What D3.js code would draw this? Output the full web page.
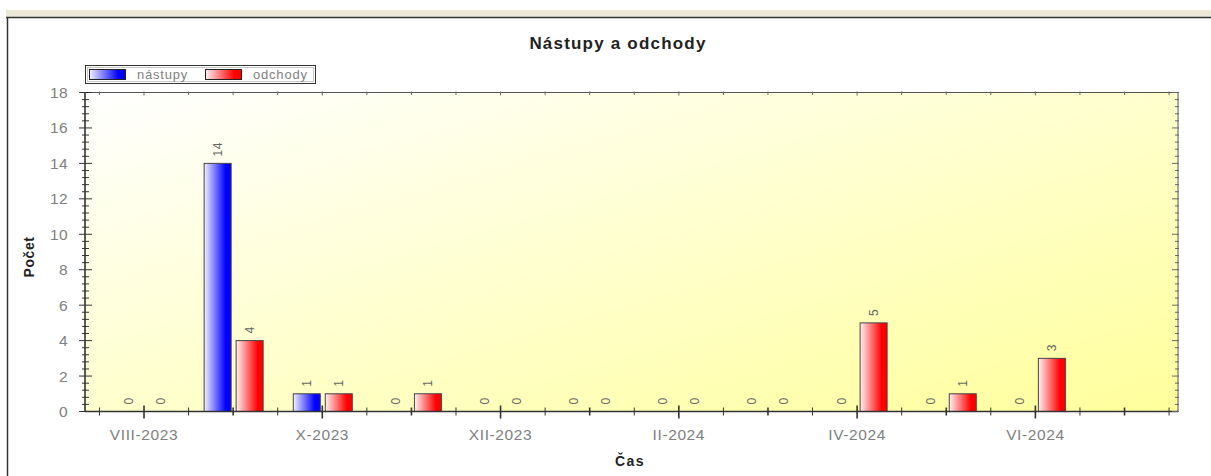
<!DOCTYPE html>
<html><head><meta charset="utf-8">
<script src="https://cdn.jsdelivr.net/npm/d3@7"></script>
<style>
html,body{margin:0;padding:0;background:#fff;}
svg{display:block;font-family:"Liberation Sans",Arial,sans-serif;}
</style></head>
<body>
<svg id="chart" width="1211" height="476"></svg>
<script>
const categories = ["VIII-2023","IX-2023","X-2023","XI-2023","XII-2023","I-2024","II-2024","III-2024","IV-2024","V-2024","VI-2024"];
const nastupy = [0,14,1,0,0,0,0,0,0,0,0];
const odchody = [0,4,1,1,0,0,0,0,5,1,3];
const seriesNames = ["nástupy","odchody"];
const tickLabels = ["VIII-2023","X-2023","XII-2023","II-2024","IV-2024","VI-2024"];
const yTicks = [0,2,4,6,8,10,12,14,16,18];

(function(){
const svg = d3.select("#chart");
const W = 1211, H = 476;
const pL = 85, pR = 1178, pT = 92.5, pB = 411.5;

// page frame
svg.append("rect").attr("x",6).attr("y",10).attr("width",W-6).attr("height",7.5).attr("fill","#ece9d8");
svg.append("line").attr("x1",6).attr("x2",W).attr("y1",17.5).attr("y2",17.5).attr("stroke","#333").attr("stroke-width",1.5);
svg.append("line").attr("x1",7.5).attr("x2",7.5).attr("y1",17).attr("y2",H).attr("stroke","#333").attr("stroke-width",1.5);

const defs = svg.append("defs");
const bg = defs.append("linearGradient").attr("id","bg").attr("x1",0).attr("y1",0).attr("x2",1).attr("y2",1);
bg.append("stop").attr("offset","0%").attr("stop-color","#ffffff");
bg.append("stop").attr("offset","100%").attr("stop-color","#ffff9c");
function barGrad(id, light, full){
  const g = defs.append("linearGradient").attr("id",id).attr("x1",0).attr("y1",0).attr("x2",1).attr("y2",0);
  g.append("stop").attr("offset","0%").attr("stop-color",light);
  g.append("stop").attr("offset","80%").attr("stop-color",full);
  g.append("stop").attr("offset","100%").attr("stop-color",full);
}
barGrad("gBlue","#f2f2ff","#0000ff");
barGrad("gRed","#fff2f2","#ff0000");
const fills = ["url(#gBlue)","url(#gRed)"];

// scales
const x = d3.scaleLinear().domain([-0.662, 11.6]).range([pL, pR]);
const y = d3.scaleLinear().domain([0, 18]).range([pB, pT]);
const inner = d3.scaleBand().domain(seriesNames).range([-29, 30]).paddingInner(0.156).paddingOuter(0);

// plot background
svg.append("rect").attr("x",pL).attr("y",pT).attr("width",pR-pL).attr("height",pB-pT).attr("fill","url(#bg)");

// title
svg.append("text").attr("x",618).attr("y",49).attr("text-anchor","middle")
  .attr("font-size",17).attr("font-weight","bold").attr("letter-spacing",1.2).attr("fill","#222")
  .text("Nástupy a odchody");

// bars
const seriesData = [nastupy, odchody];
seriesNames.forEach((name, si) => {
  const vals = seriesData[si];
  const g = svg.append("g");
  g.selectAll("rect").data(vals).join("rect")
    .attr("x",(d,i)=>x(i)+inner(name))
    .attr("y",d=>y(d))
    .attr("width",inner.bandwidth())
    .attr("height",d=>y(0)-y(d))
    .attr("fill",fills[si])
    .attr("stroke",d=>d>0?"#444":"none").attr("stroke-width",1);
  g.selectAll("text").data(vals).join("text")
    .attr("transform",(d,i)=>`translate(${x(i)+inner(name)+inner.bandwidth()/2+4},${y(d)-7}) rotate(-90)`)
    .attr("font-size",12).attr("fill","#666").attr("letter-spacing",0.5)
    .text(d=>d);
});

// frame lines
svg.append("line").attr("x1",pL).attr("x2",pR).attr("y1",pT).attr("y2",pT).attr("stroke","#555").attr("stroke-width",1);
svg.append("line").attr("x1",pR).attr("x2",pR).attr("y1",pT).attr("y2",pB).attr("stroke","#555").attr("stroke-width",1);

// x axis ticks
const xTickVals = d3.range(-0.5, 11.6, 0.5);
const xg = svg.append("g");
xTickVals.forEach(v => {
  const px = x(v);
  const major = Number.isInteger(v) && v % 2 === 0;
  const month = Number.isInteger(v);
  xg.append("line").attr("x1",px).attr("x2",px)
    .attr("y1",pB-(major?6:4)).attr("y2",pB+(major?7:4))
    .attr("stroke","#333").attr("stroke-width",month?1.6:1);
  xg.append("line").attr("x1",px).attr("x2",px).attr("y1",pT-1).attr("y2",pT+(major?3:2.5))
    .attr("stroke","#666").attr("stroke-width",1);
});
xg.append("line").attr("x1",pL).attr("x2",pR).attr("y1",pB).attr("y2",pB).attr("stroke","#333").attr("stroke-width",1.6);
xg.selectAll("text.xl").data(tickLabels).join("text").attr("class","xl")
  .attr("x",d=>x(categories.indexOf(d))).attr("y",440).attr("text-anchor","middle")
  .attr("font-size",15.5).attr("letter-spacing",0.6).attr("fill","#808080").text(d=>d);

// y axis
const yg = svg.append("g");
d3.range(0, 18.01, 0.4).forEach(v => {
  const py = y(v);
  const major = Math.abs(v/2 - Math.round(v/2)) < 1e-6;
  yg.append("line").attr("x1",pL-(major?6:3)).attr("x2",pL+(major?7:4)).attr("y1",py).attr("y2",py)
    .attr("stroke","#333").attr("stroke-width",1);
  yg.append("line").attr("x1",pR-(major?6:3)).attr("x2",pR+1).attr("y1",py).attr("y2",py)
    .attr("stroke","#666").attr("stroke-width",1);
});
yg.append("line").attr("x1",pL).attr("x2",pL).attr("y1",pT).attr("y2",pB).attr("stroke","#333").attr("stroke-width",1.6);
yg.selectAll("text").data(yTicks).join("text")
  .attr("x",68).attr("y",d=>y(d)+5.5).attr("text-anchor","end")
  .attr("font-size",15.5).attr("letter-spacing",0.4).attr("fill","#808080").text(d=>d);

// axis titles
svg.append("text").attr("transform","translate(34,257) rotate(-90)").attr("text-anchor","middle")
  .attr("font-size",14).attr("font-weight","bold").attr("letter-spacing",0.6).attr("fill","#222").text("Počet");
svg.append("text").attr("x",630).attr("y",466).attr("text-anchor","middle")
  .attr("font-size",14).attr("font-weight","bold").attr("letter-spacing",1.5).attr("fill","#222").text("Čas");

// legend
const lg = svg.append("g");
lg.append("rect").attr("x",85.5).attr("y",65.5).attr("width",230).attr("height",18)
  .attr("fill","#fff").attr("stroke","#333").attr("stroke-width",1);
lg.append("rect").attr("x",87.5).attr("y",67.5).attr("width",226).attr("height",14)
  .attr("fill","none").attr("stroke","#bbb").attr("stroke-width",0.8);
const legX = [89, 205];
seriesNames.forEach((name, i) => {
  lg.append("rect").attr("x",legX[i]+0.5).attr("y",69.5).attr("width",36).attr("height",10)
    .attr("fill",fills[i]).attr("stroke","#222").attr("stroke-width",1);
  lg.append("text").attr("x",legX[i]+48).attr("y",79).attr("font-size",13).attr("letter-spacing",0.8)
    .attr("fill","#808080").text(name);
});
})();
</script>
</body></html>
